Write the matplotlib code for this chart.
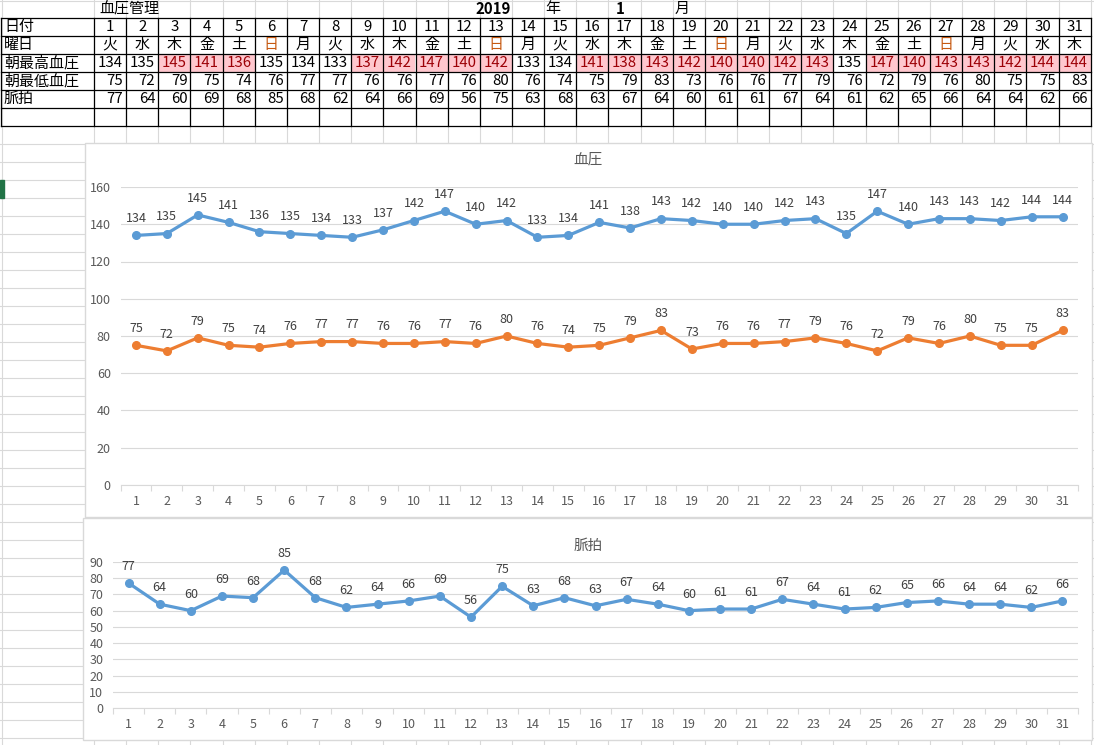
import matplotlib
matplotlib.use("Agg")
import matplotlib.pyplot as plt
from matplotlib.patches import Rectangle
import numpy as np

plt.rcParams['font.family'] = ['Noto Sans CJK JP', 'DejaVu Sans']

# data
days = list(range(1, 32))
weekdays = ['火', '水', '木', '金', '土', '日', '月'] * 4 + ['火', '水', '木']
high = [134, 135, 145, 141, 136, 135, 134, 133, 137, 142, 147, 140, 142, 133, 134, 141,
        138, 143, 142, 140, 140, 142, 143, 135, 147, 140, 143, 143, 142, 144, 144]
low = [75, 72, 79, 75, 74, 76, 77, 77, 76, 76, 77, 76, 80, 76, 74, 75,
       79, 83, 73, 76, 76, 77, 79, 76, 72, 79, 76, 80, 75, 75, 83]
pulse = [77, 64, 60, 69, 68, 85, 68, 62, 64, 66, 69, 56, 75, 63, 68, 63,
         67, 64, 60, 61, 61, 67, 64, 61, 62, 65, 66, 64, 64, 62, 66]
row_labels = ['日付', '曜日', '朝最高血圧', '朝最低血圧', '脈拍']
limit = 135

W, H = 1094, 745
fig = plt.figure(figsize=(W / 100, H / 100), dpi=100)
bg = fig.add_axes([0, 0, 1, 1])
bg.set_xlim(0, W)
bg.set_ylim(H, 0)
bg.axis('off')

grid_c = '#D9D9D9'
x0 = 94
cw = 32.15
col_edges = [x0 + cw * i for i in range(32)]
rh = 18
row_edges = [18 + rh * i for i in range(7)]   # 18 .. 126

# sheet grid (light)
for y in np.arange(144, H, 18):
    bg.plot([0, W], [y, y], color=grid_c, lw=0.8, zorder=1)
for x in [1.5] + col_edges:
    bg.plot([x, x], [0, H], color=grid_c, lw=0.8, zorder=1)
bg.plot([0, W], [0.5, 0.5], color=grid_c, lw=0.8, zorder=1)
bg.add_patch(Rectangle((0, 180), 4, 18, color='#217346', zorder=2))

# table
for i, v in enumerate(high):
    if v > limit:
        bg.add_patch(Rectangle((col_edges[i], 54), cw, rh, facecolor='#FFC7CE',
                               edgecolor='none', zorder=2))
for y in row_edges:
    bg.plot([1, col_edges[-1]], [y, y], color='black', lw=0.9, zorder=3)
for x in [1] + col_edges:
    bg.plot([x, x], [18, 126], color='black', lw=0.9, zorder=3)

fs = 10.8
bg.text(99, 9, '血圧管理', fontsize=fs, va='center', ha='left', zorder=4)
bg.text(493, 9, '2019', fontsize=fs, va='center', ha='center', fontweight='bold', zorder=4)
bg.text(545, 9, '年', fontsize=fs, va='center', ha='left', zorder=4)
bg.text(620, 9, '1', fontsize=fs, va='center', ha='center', fontweight='bold', zorder=4)
bg.text(675, 9, '月', fontsize=fs, va='center', ha='left', zorder=4)
for r, lab in enumerate(row_labels):
    bg.text(4, 27 + rh * r, lab, fontsize=fs, va='center', ha='left', zorder=4)

for i in range(31):
    cx = col_edges[i] + cw / 2
    rx = col_edges[i + 1] - 3
    bg.text(cx, 27, str(days[i]), fontsize=fs, va='center', ha='center', zorder=4)
    wc = '#C65911' if weekdays[i] == '日' else 'black'
    bg.text(cx, 45, weekdays[i], fontsize=fs, va='center', ha='center', color=wc, zorder=4)
    hc = '#9C0006' if high[i] > limit else 'black'
    bg.text(cx, 63, str(high[i]), fontsize=fs, va='center', ha='center', color=hc, zorder=4)
    bg.text(rx, 81, str(low[i]), fontsize=fs, va='center', ha='right', zorder=4)
    bg.text(rx, 99, str(pulse[i]), fontsize=fs, va='center', ha='right', zorder=4)

# chart boxes
bg.add_patch(Rectangle((85, 143), 1092 - 85, 517 - 143, facecolor='white',
                       edgecolor=grid_c, lw=1, zorder=5))
bg.add_patch(Rectangle((83, 518), 1092 - 83, 740 - 518, facecolor='white',
                       edgecolor=grid_c, lw=1, zorder=5))
bg.text(588, 160, '血圧', fontsize=10.5, color='#595959', ha='center', va='center', zorder=6)
bg.text(588, 546, '脈拍', fontsize=10.5, color='#595959', ha='center', va='center', zorder=6)


def px_axes(left, right, top, bottom):
    return fig.add_axes([left / W, 1 - bottom / H, (right - left) / W, (bottom - top) / H])


def style(ax, ymax, step):
    ax.set_facecolor('none')
    ax.set_xlim(0.5, 31.5)
    ax.set_ylim(0, ymax)
    ax.set_yticks(np.arange(0, ymax + 1, step))
    ax.set_xticks(days)
    ax.set_xticks(np.arange(0.5, 32, 1), minor=True)
    for s in ['top', 'right', 'left']:
        ax.spines[s].set_visible(False)
    ax.spines['bottom'].set_color(grid_c)
    ax.grid(axis='y', color=grid_c, lw=0.8)
    ax.set_axisbelow(True)
    ax.tick_params(axis='x', which='major', length=0, pad=7, labelsize=9, labelcolor='#595959')
    ax.tick_params(axis='x', which='minor', length=4, color=grid_c, width=0.8)
    ax.tick_params(axis='y', length=0, pad=7, labelsize=9, labelcolor='#595959')


def series(ax, vals, color):
    ax.plot(days, vals, color=color, lw=2.3, marker='o', markersize=5.5, zorder=3,
            solid_capstyle='round', solid_joinstyle='round')
    for d, v in zip(days, vals):
        ax.annotate(str(v), (d, v), xytext=(0, 12), textcoords='offset points',
                    ha='center', va='center', fontsize=9, color='#404040')


ax1 = px_axes(120.5, 1078, 187, 485)
style(ax1, 160, 20)
series(ax1, high, '#5B9BD5')
series(ax1, low, '#ED7D31')

ax2 = px_axes(113, 1078, 562, 708)
style(ax2, 90, 10)
series(ax2, pulse, '#5B9BD5')

fig.savefig('out.png', dpi=100)
